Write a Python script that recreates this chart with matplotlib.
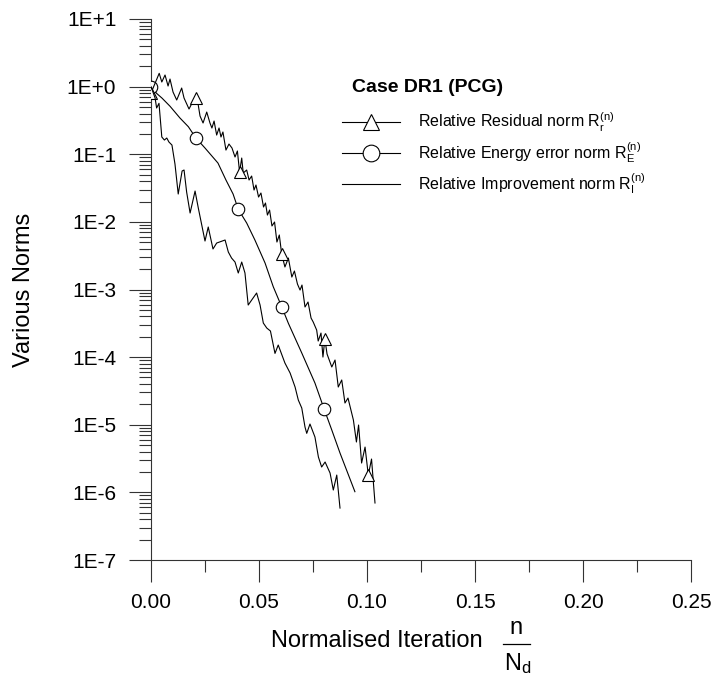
import numpy as np
import matplotlib
matplotlib.use("Agg")
import matplotlib.pyplot as plt
from matplotlib.lines import Line2D
from matplotlib.ticker import FixedLocator, FixedFormatter, LogLocator, MultipleLocator, NullFormatter

plt.rcParams['font.family'] = ['Liberation Sans', 'DejaVu Sans']
plt.rcParams['mathtext.fontset'] = 'custom'
plt.rcParams['mathtext.rm'] = 'Liberation Sans'
plt.rcParams['mathtext.it'] = 'Liberation Sans:italic'
plt.rcParams['mathtext.bf'] = 'Liberation Sans:bold'

# Normalised iteration n/N_d and log10 of each norm
residual_x = [0.0, 0.0038, 0.0050, 0.0065, 0.0079, 0.0088, 0.0102, 0.0119, 0.0142, 0.0153,
              0.0176, 0.0190, 0.0208, 0.0218, 0.0227, 0.0241, 0.0258, 0.0273, 0.0282, 0.0292,
              0.0304, 0.0315, 0.0324, 0.0333, 0.0347, 0.0361, 0.0375, 0.0389, 0.0400, 0.0410,
              0.0420, 0.0427, 0.0443, 0.0454, 0.0466, 0.0477, 0.0486, 0.0498, 0.0509, 0.0521,
              0.0530, 0.0539, 0.0549, 0.0560, 0.0572, 0.0583, 0.0594, 0.0605, 0.0620, 0.0636,
              0.0652, 0.0664, 0.0678, 0.0690, 0.0699, 0.0713, 0.0727, 0.0741, 0.0751, 0.0767,
              0.0774, 0.0787, 0.0796, 0.0805, 0.0815, 0.0837, 0.0852, 0.0867, 0.0883, 0.0898,
              0.0912, 0.0937, 0.0951, 0.0961, 0.0975, 0.0991, 0.1006, 0.1021, 0.1037]
residual_log = [-0.095, 0.197, 0.068, 0.172, 0.009, 0.112, -0.080, -0.198, -0.021, -0.169,
                -0.331, -0.243, -0.169, -0.257, -0.435, -0.538, -0.376, -0.538, -0.612, -0.509,
                -0.716, -0.612, -0.745, -0.671, -0.938, -0.849, -0.908, -1.041, -0.952, -1.263,
                -1.056, -1.278, -1.233, -1.381, -1.322, -1.529, -1.455, -1.633, -1.573, -1.780,
                -1.721, -1.899, -1.825, -2.061, -2.002, -2.298, -2.194, -2.475, -2.667, -2.535,
                -2.816, -2.727, -2.919, -3.008, -2.934, -3.259, -3.185, -3.422, -3.481, -3.600,
                -3.762, -3.644, -3.999, -3.732, -3.954, -4.146, -4.043, -4.442, -4.338, -4.679,
                -4.605, -4.930, -5.255, -5.004, -5.566, -5.330, -5.743, -5.507, -6.157]
residual_marks = [0.0, 0.0208, 0.0410, 0.0605, 0.0805, 0.1006]

energy_x = [0.0, 0.0026, 0.0051, 0.0088, 0.0134, 0.0173, 0.0207, 0.0250, 0.0310, 0.0347,
            0.0380, 0.0404, 0.0443, 0.0481, 0.0528, 0.0566, 0.0605, 0.0636, 0.0698, 0.0759,
            0.0802, 0.0837, 0.0875, 0.0944]
energy_log = [0.0, -0.100, -0.170, -0.290, -0.464, -0.593, -0.756, -0.908, -1.130, -1.381,
              -1.588, -1.814, -2.017, -2.268, -2.608, -2.959, -3.255, -3.500, -3.939, -4.383,
              -4.772, -5.078, -5.418, -5.990]
energy_marks = [0.0, 0.0207, 0.0404, 0.0605, 0.0802]

improvement_x = [0.0, 0.0019, 0.0026, 0.0037, 0.0050, 0.0062, 0.0073, 0.0083, 0.0097, 0.0111,
                 0.0126, 0.0144, 0.0153, 0.0165, 0.0181, 0.0204, 0.0219, 0.0250, 0.0265, 0.0287,
                 0.0304, 0.0343, 0.0358, 0.0373, 0.0389, 0.0404, 0.0420, 0.0435, 0.0450, 0.0466,
                 0.0489, 0.0505, 0.0520, 0.0536, 0.0553, 0.0574, 0.0589, 0.0620, 0.0644, 0.0667,
                 0.0682, 0.0698, 0.0713, 0.0721, 0.0736, 0.0759, 0.0775, 0.0790, 0.0806, 0.0829,
                 0.0844, 0.0860, 0.0875]
improvement_log = [0.0, -0.169, -0.316, -0.247, -0.745, -0.790, -0.760, -0.819, -0.864, -1.145,
                   -1.588, -1.248, -1.233, -1.559, -1.869, -1.544, -1.795, -2.283, -2.076, -2.401,
                   -2.313, -2.268, -2.446, -2.535, -2.594, -2.756, -2.594, -2.756, -3.230, -3.156,
                   -3.052, -3.230, -3.496, -3.570, -3.614, -3.945, -3.821, -4.087, -4.235, -4.442,
                   -4.635, -4.753, -5.034, -5.127, -4.989, -5.181, -5.477, -5.625, -5.551, -5.714,
                   -5.965, -5.744, -6.232]

x_ticks = [0.00, 0.05, 0.10, 0.15, 0.20, 0.25]
x_tick_labels = ["0.00", "0.05", "0.10", "0.15", "0.20", "0.25"]
y_ticks = [1e-7, 1e-6, 1e-5, 1e-4, 1e-3, 1e-2, 1e-1, 1e0, 1e1]
y_tick_labels = ["1E-7", "1E-6", "1E-5", "1E-4", "1E-3", "1E-2", "1E-1", "1E+0", "1E+1"]

title_text = "Case DR1 (PCG)"
legend_labels = [
    r"Relative Residual norm R$_\mathregular{r}^\mathregular{(n)}$",
    r"Relative Energy error norm R$_\mathregular{E}^\mathregular{(n)}$",
    r"Relative Improvement norm R$_\mathregular{I}^\mathregular{(n)}$",
]


def mark_indices(xs, marks):
    xs = np.asarray(xs)
    return [int(np.argmin(np.abs(xs - m))) for m in marks]


W, H = 717, 689
fig = plt.figure(figsize=(W / 100, H / 100), dpi=100)
ax = fig.add_axes([151 / W, 1 - 560 / H, 540 / W, 541 / H])

lw = 0.8
ms = 9
ax.plot(energy_x, 10 ** np.asarray(energy_log), color="black", lw=lw,
        marker="o", ms=ms, mfc="white", mec="black", mew=0.8,
        markevery=mark_indices(energy_x, energy_marks), zorder=3)
ax.plot(residual_x, 10 ** np.asarray(residual_log), color="black", lw=lw,
        marker="^", ms=ms, mfc="white", mec="black", mew=0.8,
        markevery=mark_indices(residual_x, residual_marks), zorder=3)
ax.plot(improvement_x, 10 ** np.asarray(improvement_log), color="black", lw=lw, zorder=4)

ax.set_yscale("log")
ax.set_xlim(0, 0.25)
ax.set_ylim(1e-7, 1e1)

for side in ("top", "right"):
    ax.spines[side].set_visible(False)
for side in ("left", "bottom"):
    ax.spines[side].set_linewidth(0.8)
    ax.spines[side].set_color("#333333")

ax.xaxis.set_major_locator(FixedLocator(x_ticks))
ax.xaxis.set_major_formatter(FixedFormatter(x_tick_labels))
ax.xaxis.set_minor_locator(MultipleLocator(0.025))
ax.yaxis.set_major_locator(FixedLocator(y_ticks))
ax.yaxis.set_major_formatter(FixedFormatter(y_tick_labels))
ax.yaxis.set_minor_locator(LogLocator(base=10, subs=np.arange(2, 10)))
ax.yaxis.set_minor_formatter(NullFormatter())

ax.tick_params(which="major", direction="out", length=16, width=0.8, color="#333333",
               labelsize=15)
ax.tick_params(which="minor", direction="out", length=8.5, width=0.8, color="#333333")
ax.tick_params(axis="y", which="major", pad=9)
ax.tick_params(axis="x", which="major", pad=8)

# Axis titles
fig.text(24 / W, 1 - 290 / H, "Various Norms", rotation=90, fontsize=17,
         ha="center", va="center")
fig.text(377 / W, 1 - 641 / H, "Normalised Iteration", fontsize=17,
         ha="center", va="center")
fig.text(516 / W, 1 - 628 / H, "n", fontsize=17, ha="center", va="center")
fig.add_artist(Line2D([503 / W, 530 / W], [1 - 644 / H, 1 - 644 / H],
                      transform=fig.transFigure, color="black", lw=0.9))
fig.text(518 / W, 1 - 664 / H, r"N$_\mathregular{d}$", fontsize=17, ha="center", va="center")

# Title and key
fig.text(352 / W, 1 - 88 / H, title_text, fontsize=14, fontweight="bold",
         ha="left", va="center")
row_y = [122, 153, 184]
row_markers = ["^", "o", None]
for y, mk, label in zip(row_y, row_markers, legend_labels):
    yf = 1 - y / H
    ln = Line2D([342 / W, 371 / W, 400 / W], [yf, yf, yf], transform=fig.transFigure,
                color="black", lw=lw)
    if mk is not None:
        ln.set_marker(mk)
        ln.set_markevery([1])
        ln.set_markersize(12)
        ln.set_markerfacecolor("white")
        ln.set_markeredgecolor("black")
        ln.set_markeredgewidth(0.8)
    fig.add_artist(ln)
    fig.text(418 / W, yf, label, fontsize=11.5, ha="left", va="center")

fig.savefig("out.png", dpi=100)
